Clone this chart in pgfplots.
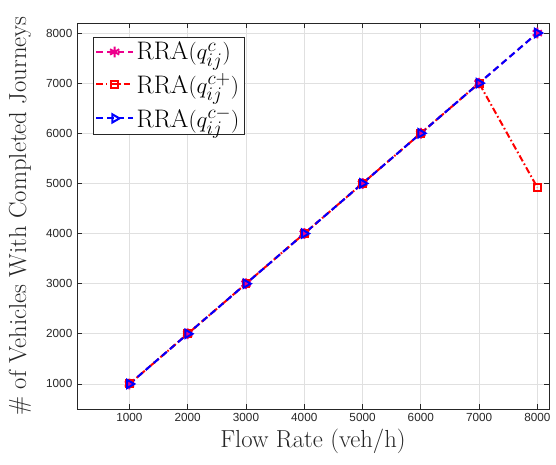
\documentclass[border=0pt]{standalone}
\usepackage{fontspec}
\usepackage{pgfplots}
\pgfplotsset{compat=1.18}
\newfontfamily\helv{Liberation Sans}

\definecolor{axgray}{gray}{0.15}
\definecolor{gridgray}{gray}{0.88}

\begin{document}
\begin{tikzpicture}
\useasboundingbox (-57.75pt,-41.25pt) rectangle (359.25pt,306.75pt);
\begin{axis}[
    at={(0,0)}, anchor=south west,
    scale only axis,
    width=354pt,
    height=289.5pt,
    xmin=100, xmax=8200,
    ymin=500, ymax=8200,
    xtick={1000,2000,...,8000},
    ytick={1000,2000,...,8000},
    scaled ticks=false,
    /pgf/number format/assume math mode=true,
    /pgf/number format/1000 sep={},
    tick label style={font=\helv\fontsize{8.8}{10}\selectfont, text=black!85},
    tick align=inside,
    tick pos=both,
    major tick length=4pt,
    tick style={axgray, line width=0.6pt},
    axis line style={axgray, line width=0.6pt},
    grid=major,
    grid style={gridgray, line width=0.6pt},
    xlabel={Flow Rate (veh/h)},
    ylabel={\# of Vehicles With Completed Journeys},
    label style={font=\fontsize{18.5}{22}\selectfont, text=black!85},
    xlabel style={at={(rel axis cs:0.5,0)}, anchor=center, yshift=-24pt},
    ylabel style={at={(rel axis cs:0,0.5)}, anchor=center, yshift=42.75pt},
    legend cell align=left,
    legend style={at={(rel axis cs:0.034,0.964)}, anchor=north west,
        draw=axgray, line width=0.6pt, fill=white,
        font=\fontsize{19}{22}\selectfont,
        inner sep=1.5pt, row sep=4.5pt},
    legend image code/.code={\draw[mark repeat=2,mark phase=2]
        plot coordinates {(0cm,0cm) (0.48cm,0cm) (0.96cm,0cm)};},
]
\addplot[magenta, line width=1.5pt, dash pattern=on 5pt off 3pt,
    mark=asterisk, mark size=4pt, mark options={solid, line width=1.5pt}]
    coordinates {(1000,1000) (2000,2000) (3000,3000) (4000,4000)
                 (5000,5000) (6000,6000) (7000,7000) (8000,8000)};
\addlegendentry{$\mathrm{RRA}(q_{ij}^{c})$}
\addplot[red, line width=1.5pt, dash pattern=on 5pt off 2pt on 1.2pt off 2pt,
    mark=square, mark size=2.6pt, mark options={solid, line width=1.5pt}]
    coordinates {(1000,1000) (2000,2000) (3000,3000) (4000,4000)
                 (5000,5000) (6000,6000) (7000,7000) (8000,4920)};
\addlegendentry{$\mathrm{RRA}(q_{ij}^{c+})$}
\addplot[blue, line width=1.5pt, dash pattern=on 5pt off 3pt,
    mark=triangle, mark size=3.6pt, mark options={solid, line width=1.5pt, rotate=-90}]
    coordinates {(1000,1000) (2000,2000) (3000,3000) (4000,4000)
                 (5000,5000) (6000,6000) (7000,7000) (8000,8000)};
\addlegendentry{$\mathrm{RRA}(q_{ij}^{c-})$}
\end{axis}
\end{tikzpicture}
\end{document}
